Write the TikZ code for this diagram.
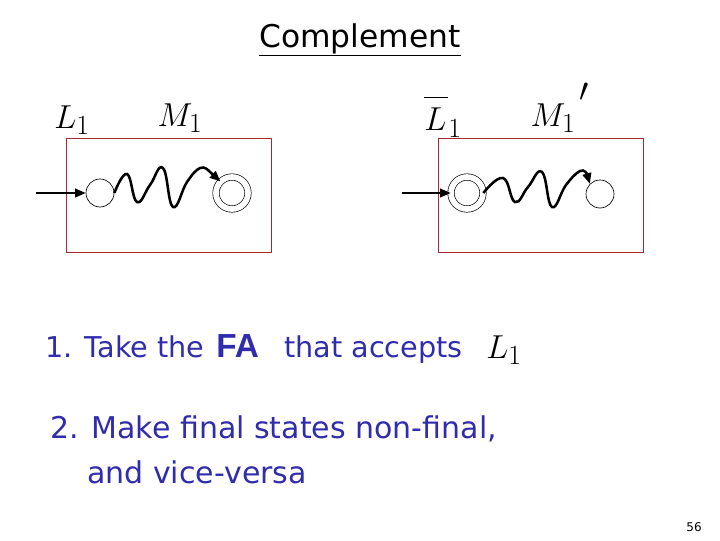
\documentclass[tikz,border=0pt]{standalone}
\usepackage{fontspec}
\setmainfont{DejaVu Sans}
\newfontfamily\boldsans{Liberation Sans}
\usetikzlibrary{arrows.meta}
\definecolor{txtblue}{RGB}{48,44,172}
\definecolor{boxred}{RGB}{170,40,50}
\begin{document}
\begin{tikzpicture}[x=0.75pt,y=-0.75pt,
  fabox/.style={draw=boxred,line width=0.75pt},
  state/.style={draw,circle,line width=0.5pt,minimum size=21pt,inner sep=0pt},
  accstate/.style={state,minimum size=24pt,double,double distance=4.3pt},
  tip/.style={-{Triangle[length=8pt,width=6.5pt]}},
  entry/.style={tip,line width=1.5pt},
  wig/.style={tip,line width=1.9pt},
  mathlbl/.style={inner sep=0pt,font=\fontsize{29}{34}\selectfont},
  bodytxt/.style={anchor=base west,inner sep=0pt,text=txtblue,font=\fontsize{21.5}{26}\selectfont}]
\useasboundingbox (0,0) rectangle (720,540);
% title
\node[anchor=base,inner sep=0pt,font=\fontsize{23.5}{28}\selectfont] (title) at (360,47) {\underline{Complement}};
% left automaton
\node[fabox,minimum width=153.75pt,minimum height=85.5pt,inner sep=0pt] (boxL) at (168.5,195) {};
\node[mathlbl] (L1) at (72,120) {$L_1$};
\node[mathlbl] (M1) at (180,118) {$M_1$};
\node[state] (sL) at (100,193) {};
\node[accstate] (fL) at (232,193) {};
\coordinate (inL) at (36,193);
\draw[entry] (inL) -- (sL);
\draw[wig] plot[smooth,tension=0.75] coordinates {(sL.east) (127,174) (137,202) (150,185) (163,168) (173,207) (187,182) (200,168) (209,171)} -- (fL.north west);
% right automaton
\node[fabox,minimum width=153.75pt,minimum height=85.5pt,inner sep=0pt] (boxR) at (540.5,195) {};
\node[mathlbl] (L1b) at (443,117) {$\overline{\rule{0pt}{0.82em}L\mkern1mu}_1$};
\node[mathlbl] (M1p) at (553,118) {$M_1$};
\node[inner sep=0pt,font=\fontsize{29}{34}\selectfont] (prime) at (584,92) {$\prime$};
\node[accstate] (sR) at (467,193) {};
\node[state] (fR) at (600,194) {};
\coordinate (inR) at (402,193);
\draw[entry] (inR) -- (sR);
\draw[wig] plot[smooth,tension=0.75] coordinates {(sR.east) (503,178) (515,202) (528,187) (542,172) (552,207) (566,185) (580,171) (587,174)} -- (fR.north west);
% text
\node[bodytxt] (t1a) at (45,357) {1. Take the};
\node[anchor=base west,inner sep=0pt,text=txtblue,font=\boldsans\bfseries\fontsize{25}{30}\selectfont] (fa) at (216,357) {FA};
\node[bodytxt] (t1b) at (284,357) {that accepts};
\node[mathlbl] (L1t) at (504,350) {$L_1$};
\node[bodytxt,font=\fontsize{22.5}{27}\selectfont] (t2a) at (50,438) {2. Make final states non-final,};
\node[bodytxt,font=\fontsize{22.5}{27}\selectfont] (t2b) at (87,483) {and vice-versa};
\node[anchor=base,inner sep=0pt,font=\fontsize{9}{11}\selectfont] (pg) at (694,531) {56};
\end{tikzpicture}
\end{document}
